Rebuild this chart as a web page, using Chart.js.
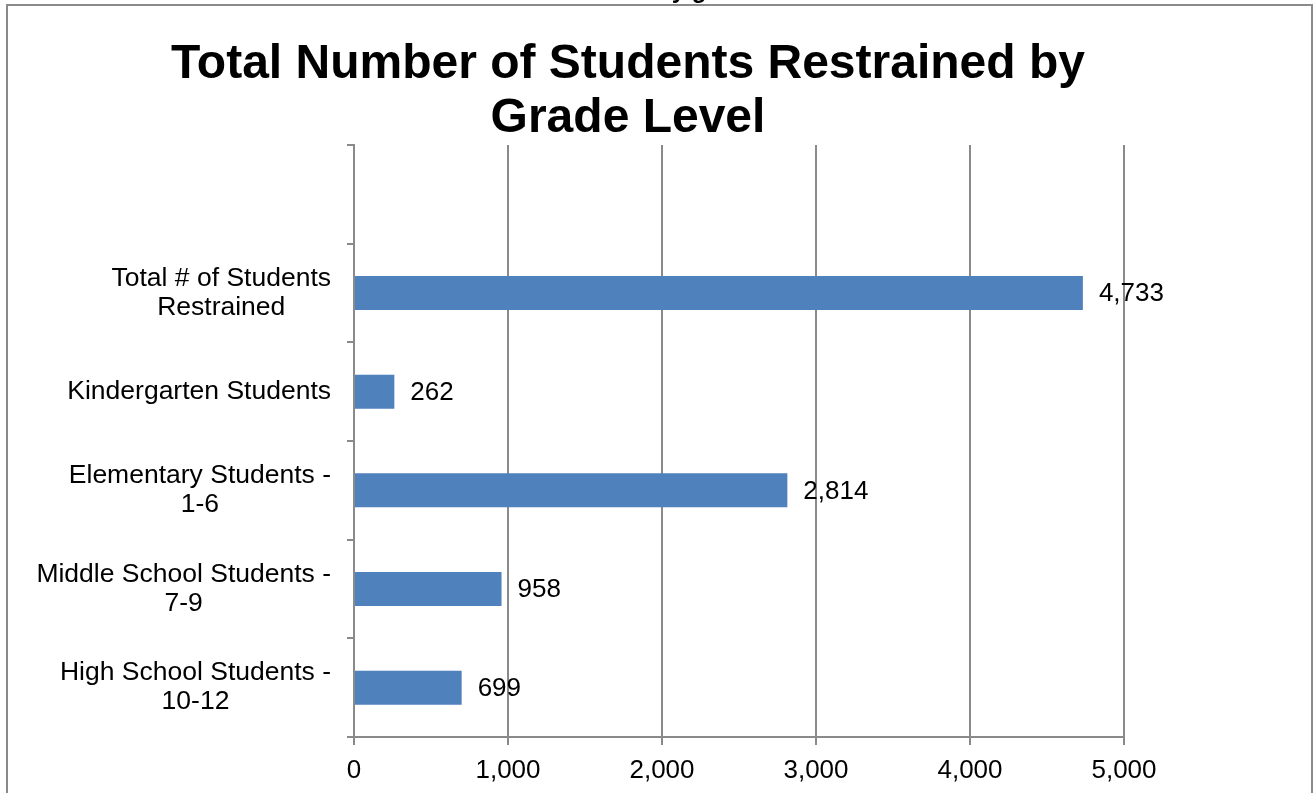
<!DOCTYPE html>
<html>
<head>
<meta charset="utf-8">
<script src="https://cdn.jsdelivr.net/npm/chart.js@4.4.1/dist/chart.umd.min.js"></script>
<style>
html,body{margin:0;padding:0;background:#fff;}
#wrap{width:1315px;height:793px;position:relative;}
</style>
</head>
<body>
<div id="wrap"><canvas id="c" width="1315" height="793"></canvas></div>
<script>
const categories = [
  '',
  ['Total # of Students', 'Restrained'],
  ['Kindergarten Students'],
  ['Elementary Students -', '1-6'],
  ['Middle School Students -', '7-9'],
  ['High School Students -', '10-12']
];
const values = [null, 4733, 262, 2814, 958, 699];
const xTicks = [0, 1000, 2000, 3000, 4000, 5000];
const titleLines = ['Total Number of Students Restrained by', 'Grade Level'];
const cutText = 'by grade';

const FONT = '"Liberation Sans", Arial, sans-serif';
const GRID = '#8a8a8a';

function fmt(v){ return v.toLocaleString('en-US'); }

const decor = {
  id: 'decor',
  beforeDraw(chart){
    const ctx = chart.ctx;
    ctx.save();
    ctx.fillStyle = '#fff';
    ctx.fillRect(0,0,chart.width,chart.height);
    // cut-off text above the frame
    ctx.fillStyle = '#000';
    ctx.font = 'bold 24px ' + FONT;
    ctx.textAlign = 'left';
    ctx.textBaseline = 'alphabetic';
    ctx.fillText(cutText, 657, -2);
    // frame
    ctx.strokeStyle = GRID;
    ctx.lineWidth = 2;
    ctx.strokeRect(7, 5, 1305, 820);
    // title
    ctx.font = 'bold 48px ' + FONT;
    ctx.textAlign = 'center';
    ctx.fillText(titleLines[0], 628, 78);
    ctx.fillText(titleLines[1], 628, 132);
    ctx.restore();
  },
  afterDraw(chart){
    const ctx = chart.ctx;
    const y = chart.scales.y;
    ctx.save();
    ctx.font = '26.5px ' + FONT;
    ctx.fillStyle = '#000';
    ctx.textBaseline = 'middle';
    const lh = 29;
    const rightEdge = 331;
    categories.forEach((lab, i) => {
      const lines = Array.isArray(lab) ? lab : [lab];
      if (!lines.length || lines[0] === '') return;
      const cy = y.getPixelForValue(i);
      let maxW = 0;
      lines.forEach(l => { maxW = Math.max(maxW, ctx.measureText(l).width); });
      const cx = rightEdge - maxW/2;
      ctx.textAlign = 'center';
      const start = cy - (lines.length-1)*lh/2;
      lines.forEach((l, k) => ctx.fillText(l, cx, start + k*lh));
    });
    // value labels
    ctx.font = '26px ' + FONT;
    ctx.textAlign = 'left';
    const meta = chart.getDatasetMeta(0);
    meta.data.forEach((bar, i) => {
      const v = values[i];
      if (v == null) return;
      ctx.fillText(fmt(v), bar.x + 16, bar.y + 1);
    });
    ctx.restore();
  }
};

new Chart(document.getElementById('c'), {
  type: 'bar',
  data: {
    labels: categories,
    datasets: [{
      data: values,
      backgroundColor: '#4F81BD',
      borderWidth: 0,
      barPercentage: 0.69,
      categoryPercentage: 0.5
    }]
  },
  options: {
    indexAxis: 'y',
    responsive: false,
    devicePixelRatio: 1,
    animation: false,
    events: [],
    layout: { padding: { left: 0, right: 191, top: 145, bottom: 0 } },
    plugins: {
      legend: { display: false },
      tooltip: { enabled: false },
      title: { display: false }
    },
    scales: {
      x: {
        type: 'linear',
        min: 0, max: 5000,
        afterBuildTicks(scale){ scale.ticks = xTicks.map(v => ({ value: v })); },
        afterFit(scale){ scale.height = 56; },
        ticks: {
          color: '#000',
          font: { family: FONT, size: 26 },
          padding: 10,
          callback: v => fmt(v)
        },
        grid: { color: GRID, lineWidth: 2, tickLength: 8, drawTicks: true },
        border: { color: GRID, width: 2 }
      },
      y: {
        type: 'category',
        offset: true,
        afterFit(scale){ scale.width = 354; },
        ticks: { display: false },
        grid: { offset: true, drawOnChartArea: false, drawTicks: true, tickLength: 7, color: GRID, lineWidth: 2 },
        border: { color: GRID, width: 2 }
      }
    }
  },
  plugins: [decor]
});
</script>
</body>
</html>
